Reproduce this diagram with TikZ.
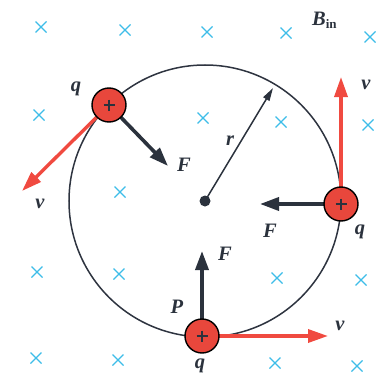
\documentclass[tikz,border=0pt]{standalone}
\usepackage{fontspec}
\setmainfont{Liberation Serif}
\usetikzlibrary{arrows.meta,calc}
\definecolor{chgred}{HTML}{E8473C}
\definecolor{vred}{HTML}{F04A40}
\definecolor{fdark}{HTML}{2B323D}
\definecolor{xcyan}{HTML}{3DBDE8}
\definecolor{ringcol}{HTML}{2E3440}
\begin{document}
\begin{tikzpicture}[x=1pt,y=-1pt,
  cross/.style={xcyan,line width=1.3pt},
  varrow/.style={vred,line width=3.4pt,-{Triangle[length=20pt,width=13pt]}},
  farrow/.style={fdark,line width=3.6pt,-{Triangle[length=19pt,width=13pt]}},
  charge/.style={circle,draw=black,line width=1.4pt,fill=chgred,minimum size=34pt,inner sep=0pt},
  lbl/.style={font=\fontsize{20.5}{20.5}\selectfont\bfseries\itshape,text=fdark,inner sep=0pt}]
\useasboundingbox (0,0) rectangle (384,380);
% crosses
\foreach \x/\y in {41/27,125/30,207/32,286/33,370/37,
                   39/115,203/118,281/122,368/125,
                   120/192,
                   37/272,119/274,277/278,361/280,
                   36/358,118/360,275/363,357/366}{
  \draw[cross] (\x-5.5,\y-5.5) -- (\x+5.5,\y+5.5) (\x-5.5,\y+5.5) -- (\x+5.5,\y-5.5);
}
% orbit
\coordinate (O) at (205,201);
\draw[ringcol,line width=1.5pt] (O) circle[radius=136pt];
\fill[fdark] (O) circle[radius=5.5pt];
% radius
\coordinate (R) at (273,88);
\draw[fdark,line width=1.5pt,-{Triangle[length=13pt,width=7pt]}] (O) -- (R);
\node[lbl] (rl) at (230,141) {r};
% charge positions
\coordinate (A) at (109,105);
\coordinate (C) at (341,204);
\coordinate (D) at (202,336);
% arrow tips
\coordinate (Av) at (22,191);
\coordinate (AF) at (168,166);
\coordinate (Cv) at (341,77);
\coordinate (CF) at (260,204);
\coordinate (Dv) at (328,336);
\coordinate (DF) at (202,251);
\draw[varrow] (A) -- (Av);
\draw[farrow] (A) -- (AF);
\draw[varrow] (C) -- (Cv);
\draw[farrow] (C) -- (CF);
\draw[varrow] (D) -- (Dv);
\draw[farrow] (D) -- (DF);
% charges
\foreach \n in {A,C,D}{
  \node[charge] (q\n) at (\n) {};
  \draw[fdark,line width=1.6pt] ($(\n)+(-5.5,0)$) -- ($(\n)+(5.5,0)$) ($(\n)+(0,-5.5)$) -- ($(\n)+(0,5.5)$);
}
% labels
\node[lbl] (qAl) at (76,89) {q};
\node[lbl] (FAl) at (184,165) {F};
\node[lbl] (vAl) at (40,204) {v};
\node[lbl] (vCl) at (366,85) {v};
\node[lbl] (FCl) at (270,231) {F};
\node[lbl] (qCl) at (360,232) {q};
\node[lbl] (FDl) at (225,254) {F};
\node[lbl] (Pl) at (177,307) {P};
\node[lbl] (qDl) at (200,366) {q};
\node[lbl] (vDl) at (340,326) {v};
\node[lbl,anchor=base west] (Bl) at (312,25) {B\raisebox{-4pt}{\fontsize{13}{13}\selectfont\bfseries\upshape in}};
\end{tikzpicture}
\end{document}
